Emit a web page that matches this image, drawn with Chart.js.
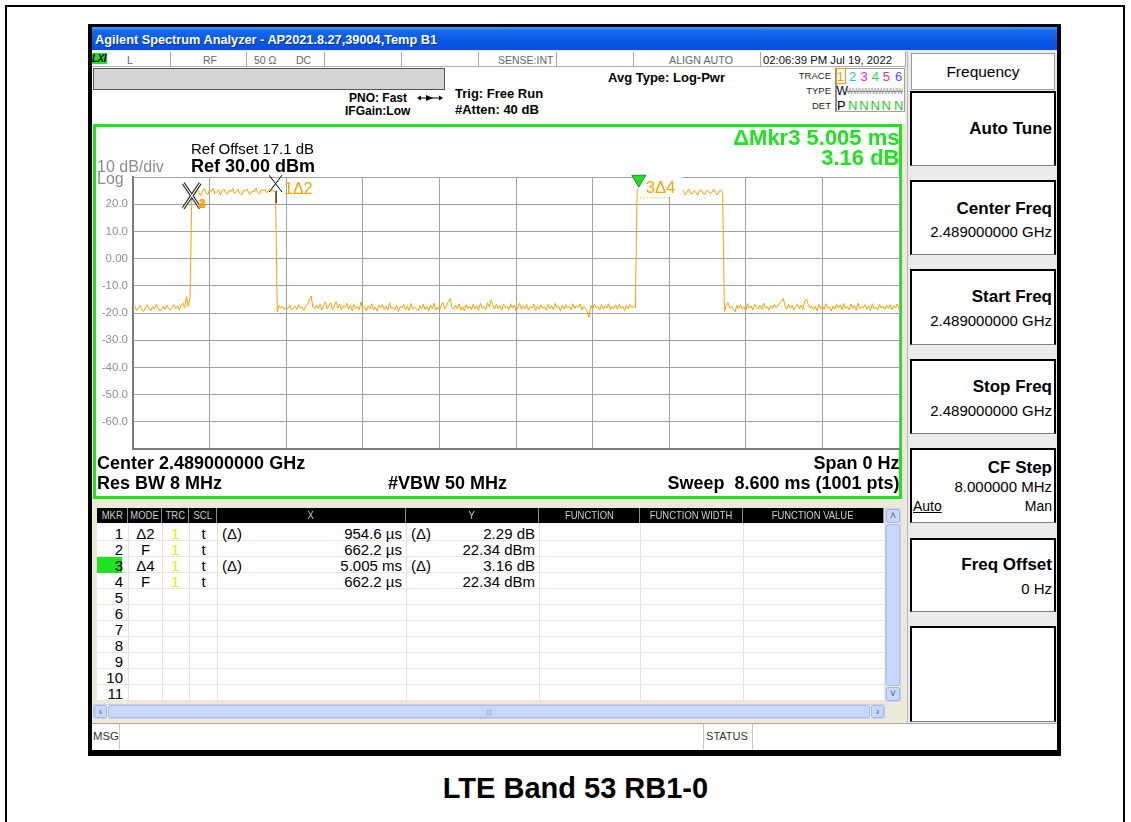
<!DOCTYPE html>
<html><head><meta charset="utf-8">
<script src="https://cdn.jsdelivr.net/npm/chart.js@4.4.1/dist/chart.umd.min.js"></script>
<style>
*{box-sizing:border-box;margin:0;padding:0}
body{width:1131px;height:822px;background:#fff;position:relative;overflow:hidden;font-family:"Liberation Sans",Arial,sans-serif;color:#000}
.a{position:absolute;white-space:nowrap;line-height:1}
.b{font-weight:bold}
.box{position:absolute}
.sep{position:absolute;width:1px;background:#a8a8a8}
.key{position:absolute;left:910px;width:146px;background:#fff;border-left:2px solid #000;border-top:2px solid #000;border-right:2px solid #000;border-bottom:1px solid #808080}
.kt{position:absolute;right:79px;font-weight:bold;font-size:17px;white-space:nowrap;line-height:1}
.kv{position:absolute;right:79px;font-size:15px;white-space:nowrap;line-height:1}
.hd{position:absolute;top:508px;height:15px;background:#000;border-right:1px solid #8a8a8a;color:#cfcfcf;font-size:11px;line-height:15px;text-align:center;overflow:hidden}
.hd span{display:inline-block;transform:scaleX(.86)}
.row{position:absolute;left:97px;width:787px;height:16px;border-bottom:1px solid #e6e6e6}
.cl{position:absolute;top:523px;height:178px;width:1px;background:#e2e2e2}
.t15{position:absolute;font-size:15px;line-height:1;white-space:nowrap}
</style></head>
<body>
<div class="box" style="left:5px;top:5px;width:1120px;height:840px;border:2px solid #000"></div>
<div class="box" style="left:88px;top:24px;width:973px;height:732px;background:#000"></div>
<div class="box" style="left:92px;top:27px;width:965px;height:23px;background:linear-gradient(#4b9cff 0%,#1668f0 18%,#0a5ae6 55%,#0650dc 100%)"></div>
<div class="a b" data-w="342" style="left:95px;top:32.5px;font-size:13px;color:#fff;text-shadow:1px 1px 0 #0a3290">Agilent Spectrum Analyzer - AP2021.8.27,39004,Temp B1</div>
<div class="box" style="left:92px;top:50px;width:965px;height:700px;background:#ece9d8"></div>

<!-- status row -->
<div class="box" style="left:92px;top:51px;width:813px;height:16px;background:#fff;border-bottom:1px solid #b0b0b0"></div>
<div class="box" style="left:92px;top:53px;width:15px;height:11px;background:#22e022"></div>
<div class="a b" style="left:92px;top:53.5px;font-size:10px;font-style:italic;letter-spacing:-0.5px">LXI</div>
<div class="a" style="left:127px;top:55px;font-size:10.5px;color:#666">L</div>
<div class="a" style="left:203px;top:55px;font-size:10.5px;color:#666">RF</div>
<div class="a" style="left:254px;top:55px;font-size:10.5px;color:#666">50 Ω</div>
<div class="a" style="left:296px;top:55px;font-size:10.5px;color:#666">DC</div>
<div class="a" style="left:498px;top:55px;font-size:10.5px;color:#666">SENSE:INT</div>
<div class="a" data-w="64" style="left:669px;top:55px;font-size:10.5px;color:#666">ALIGN AUTO</div>
<div class="a" data-w="129" style="left:763px;top:54.5px;font-size:11.3px;color:#111">02:06:39 PM Jul 19, 2022</div>
<div class="sep" style="left:170px;top:52px;height:15px"></div>
<div class="sep" style="left:246px;top:52px;height:15px"></div>
<div class="sep" style="left:324px;top:52px;height:15px"></div>
<div class="sep" style="left:401px;top:52px;height:15px"></div>
<div class="sep" style="left:478px;top:52px;height:15px"></div>
<div class="sep" style="left:556px;top:52px;height:15px"></div>
<div class="sep" style="left:633px;top:52px;height:15px"></div>
<div class="sep" style="left:760px;top:52px;height:15px"></div>
<div class="sep" style="left:905px;top:51px;height:16px"></div>

<!-- header info -->
<div class="box" style="left:92px;top:67px;width:813px;height:57px;background:#fff"></div>
<div class="box" style="left:93px;top:68px;width:352px;height:22px;background:#d6d3d6;border:1px solid #555"></div>
<div class="a b" style="right:724px;top:92px;font-size:12px">PNO: Fast</div>
<svg class="box" style="left:417px;top:94px" width="26" height="8" viewBox="0 0 26 8">
<line x1="2" y1="4" x2="24" y2="4" stroke="#000" stroke-width="1"/>
<polygon points="0,4 4,1.5 4,6.5" fill="#000"/><polygon points="26,4 22,1.5 22,6.5" fill="#000"/>
<polygon points="9,1 16,4 9,7" fill="#000"/></svg>
<div class="a b" style="left:345px;top:105px;font-size:12px">IFGain:Low</div>
<div class="a b" style="left:455px;top:86.5px;font-size:13px">Trig: Free Run</div>
<div class="a b" style="left:455px;top:102.5px;font-size:13px">#Atten: 40 dB</div>
<div class="a b" style="left:608px;top:70.5px;font-size:13px">Avg Type: Log-Pwr</div>
<div class="a" style="right:300px;top:71px;font-size:9.5px;color:#222">TRACE</div>
<div class="a" style="right:300px;top:86px;font-size:9.5px;color:#222">TYPE</div>
<div class="a" style="right:300px;top:100.5px;font-size:9.5px;color:#222">DET</div>
<div class="box" style="left:835px;top:68px;width:70px;height:44px;border:1px solid #a0a0a0;border-left:2px solid #8a8a8a"></div>
<div class="box" style="left:836px;top:68px;width:10px;height:16px;border:1px solid #ff9900"></div>
<div id="traceNums"></div>
<div class="a" style="left:836.5px;top:85px;font-size:12px">W</div>
<div class="a" data-w="56" style="left:847px;top:86.5px;font-size:9px;color:#8a8a8a;text-decoration:line-through">WWWWWWWWW</div>
<div class="a" style="left:837px;top:98.5px;font-size:13px">P</div>

<!-- plot frame -->
<div class="box" style="left:93px;top:124px;width:809px;height:375px;border:3px solid #1ee41e;background:#fff"></div>
<canvas id="c" width="804" height="369" style="position:absolute;left:96px;top:127px"></canvas>
<div class="a" style="left:191px;top:141px;font-size:15px">Ref Offset 17.1 dB</div>
<div class="a b" style="left:191px;top:157px;font-size:18px">Ref 30.00 dBm</div>
<div class="a" style="left:97px;top:159px;font-size:16px;color:#8c8c8c">10 dB/div</div>
<div class="a" style="left:97px;top:171px;font-size:16px;color:#8c8c8c">Log</div>
<div class="a b" style="right:231.5px;top:127.3px;font-size:22px;color:#1ee41e">ΔMkr3 5.005 ms</div>
<div class="a b" style="right:231.5px;top:147.3px;font-size:22px;color:#1ee41e">3.16 dB</div>
<div class="a b" style="left:97px;top:454.3px;font-size:18px">Center 2.489000000 GHz</div>
<div class="a b" style="left:97px;top:474.3px;font-size:18px">Res BW 8 MHz</div>
<div class="a b" style="left:388px;top:474.3px;font-size:18px">#VBW 50 MHz</div>
<div class="a b" style="right:231.5px;top:454.3px;font-size:18px">Span 0 Hz</div>
<div class="a b" style="right:231.5px;top:474.3px;font-size:18px;white-space:pre">Sweep  8.600 ms (1001 pts)</div>

<!-- softkeys -->
<div class="box" style="left:907px;top:51px;width:150px;height:672px;background:#ebebeb;border-left:1px solid #b8b8b8"></div>
<div class="box" style="left:911px;top:53px;width:144px;height:37px;background:#fff;border:1px solid #9a9a9a"></div>
<div class="a" style="left:911px;width:144px;text-align:center;top:63.5px;font-size:15.5px">Frequency</div>
<div class="key" style="top:91px;height:75px"></div>
<div class="kt" style="top:120px">Auto Tune</div>
<div class="key" style="top:180px;height:75px"></div>
<div class="kt" style="top:199.5px">Center Freq</div>
<div class="kv" style="top:224px">2.489000000 GHz</div>
<div class="key" style="top:269px;height:76px"></div>
<div class="kt" style="top:288px">Start Freq</div>
<div class="kv" style="top:312.5px">2.489000000 GHz</div>
<div class="key" style="top:359px;height:75px"></div>
<div class="kt" style="top:378px">Stop Freq</div>
<div class="kv" style="top:402.5px">2.489000000 GHz</div>
<div class="key" style="top:448px;height:75px"></div>
<div class="kt" style="top:458.5px">CF Step</div>
<div class="kv" style="top:479px">8.000000 MHz</div>
<div class="a" style="left:913px;top:499px;font-size:14px;text-decoration:underline">Auto</div>
<div class="kv" style="top:499px;font-size:14px">Man</div>
<div class="key" style="top:538px;height:74px"></div>
<div class="kt" style="top:555.5px">Freq Offset</div>
<div class="kv" style="top:581px">0 Hz</div>
<div class="key" style="top:626px;height:96px"></div>

<!-- marker table -->
<div class="box" style="left:97px;top:523px;width:787px;height:178px;background:#fff"></div>
<div id="tbl"></div>
<div class="box" style="left:885px;top:508px;width:16px;height:194px;background:#eef2fb;border:1px solid #c9d5ee"></div>
<div class="box" style="left:886px;top:509px;width:14px;height:14px;background:#c8d8fb;border:1px solid #9fb6e8;border-radius:2px;font-size:10px;line-height:12px;text-align:center;color:#4a5f8a">˄</div>
<div class="box" style="left:886px;top:524px;width:14px;height:162px;background:#c8d8fb;border:1px solid #a9bfee;border-radius:2px"></div>
<div class="box" style="left:886px;top:687px;width:14px;height:14px;background:#c8d8fb;border:1px solid #9fb6e8;border-radius:2px;font-size:10px;line-height:12px;text-align:center;color:#4a5f8a">˅</div>
<div class="box" style="left:93px;top:704px;width:792px;height:15px;background:#eef2fb;border:1px solid #c9d5ee"></div>
<div class="box" style="left:94px;top:705px;width:13px;height:13px;background:#c8d8fb;border:1px solid #9fb6e8;border-radius:2px;font-size:11px;line-height:11px;text-align:center;color:#4a5f8a">‹</div>
<div class="box" style="left:108px;top:705px;width:762px;height:13px;background:#c8d8fb;border:1px solid #a9bfee;border-radius:2px;font-size:8px;line-height:11px;text-align:center;color:#8fa6d6">|||</div>
<div class="box" style="left:871px;top:705px;width:13px;height:13px;background:#c8d8fb;border:1px solid #9fb6e8;border-radius:2px;font-size:11px;line-height:11px;text-align:center;color:#4a5f8a">›</div>

<!-- msg bar -->
<div class="box" style="left:92px;top:723px;width:965px;height:27px;background:#fff;border-top:1px solid #a8a8a8"></div>
<div class="sep" style="left:119px;top:724px;height:26px;background:#c8c8c8"></div>
<div class="sep" style="left:703px;top:724px;height:26px;background:#c8c8c8"></div>
<div class="sep" style="left:752px;top:724px;height:26px;background:#c8c8c8"></div>
<div class="a" data-w="26" style="left:92.5px;top:731px;font-size:10.5px;color:#333">MSG</div>
<div class="a" data-w="42" style="left:706px;top:731px;font-size:10.5px;color:#333">STATUS</div>

<div class="a b" style="left:0;width:1151px;text-align:center;top:773.5px;font-size:29px">LTE Band 53 RB1-0</div>

<script>
// ---------- data ----------
const SWEEP_MS = 8.6;            // Sweep 8.600 ms
const SAMPLE_STEP_MS = 0.02;     // trace sampled every 0.02 ms (431 samples)
const noiseA = [-18.4,-17.6,-19.1,-18.2,-17.3,-18.9,-19.4,-17.9,-17.0,-18.5,
 -19.2,-17.7,-18.6,-16.8,-18.1,-19.3,-18.8,-17.5,-18.7,-17.2,
 -18.3,-19.0,-17.8,-16.9,-18.4,-17.4,-18.9,-17.1,-16.4,-18.2,
 -14.0,-17.6,-14.6];
const burst1 = [22.34,25.2,23.9,25.7,24.3,23.1,25.0,25.8,24.1,23.6,
 25.4,24.7,25.9,23.8,24.5,25.3,23.4,24.9,25.6,24.2,
 23.7,25.1,24.6,25.8,23.9,24.4,25.5,24.0,23.3,25.2,
 24.8,25.7,24.1,23.6,25.0,24.5,25.9,24.3,23.8,25.4,
 24.9,25.6,24.2,25.1,24.7,25.3,24.8,24.63];
const noiseB = [-19.6,-17.2,-18.1,-17.6,-18.8,-17.9,-18.4,-17.1,-18.9,-18.2,
 -17.5,-18.7,-16.9,-18.3,-17.8,-19.0,-17.4,-16.6,-15.2,-13.8,
 -17.9,-18.6,-17.0,-18.4,-16.8,-18.9,-17.3,-15.9,-18.5,-17.1,
 -16.2,-18.8,-17.4,-15.8,-18.2,-16.7,-18.9,-17.3,-18.0,-16.4,
 -18.6,-17.2,-19.1,-16.9,-18.3,-17.6,-18.8,-15.9,-18.4,-17.7,
 -19.2,-17.4,-18.5,-16.6,-18.9,-17.8,-19.3,-17.1,-18.2,-16.9,
 -18.7,-17.5,-19.0,-16.3,-18.4,-17.9,-18.8,-17.2,-19.4,-17.6,
 -18.1,-16.8,-18.9,-17.4,-19.1,-16.5,-18.6,-17.7,-18.3,-19.2,
 -17.3,-18.5,-16.7,-18.8,-17.6,-19.3,-17.0,-18.4,-16.4,-18.9,
 -17.8,-19.0,-17.2,-16.1,-18.6,-17.5,-15.8,-14.7,-17.9,-18.7,
 -17.1,-18.4,-16.6,-18.9,-17.7,-19.2,-16.9,-18.3,-17.4,-18.8,
 -16.8,-18.5,-17.3,-19.1,-16.5,-18.2,-17.6,-18.9,-16.3,-17.8,
 -15.3,-17.0,-18.6,-16.7,-18.4,-17.2,-19.0,-16.9,-18.1,-17.5,
 -18.8,-16.6,-18.3,-17.1,-19.2,-17.8,-16.4,-18.7,-17.3,-18.5,
 -16.9,-18.9,-17.6,-18.2,-16.7,-19.1,-17.4,-18.6,-17.0,-18.3,
 -17.7,-19.0,-16.8,-18.4,-17.2,-18.9,-16.5,-18.1,-17.6,-19.3,
 -17.1,-18.6,-16.9,-18.2,-17.5,-18.8,-16.6,-18.4,-17.3,-18.0,
 -16.7,-18.9,-17.4,-18.3,-19.6,-21.6,-17.2,-18.5,-16.8,-18.1,
 -17.7,-19.0,-16.9,-18.6,-17.3,-18.2,-16.6,-18.8,-17.5,-18.4,
 -17.0,-18.7,-16.8,-18.3,-17.6,-19.1,-17.2,-18.5,-16.9,-18.0,
 -17.4,-18.2];
const burst2 = [25.50,24.9,24.6,23.8,25.2,24.1,25.7,23.5,24.9,25.3,
 24.0,23.6,25.1,24.4,25.8,23.9,24.7,25.4,24.2,23.4,
 25.0,24.6,25.6,24.3,23.7,25.2,24.8,23.5,24.5,25.5,
 24.1,23.8,25.0,24.4,23.2,24.9,25.3,24.0,23.6,25.1,
 24.7,23.9,24.3,25.6,24.1,23.4,24.8,25.2,23.8];
const noiseC = [-19.4,-17.3,-16.2,-18.1,-17.5,-18.8,-19.6,-17.2,-18.4,-16.9,
 -18.6,-17.8,-19.1,-16.5,-18.3,-17.4,-18.9,-16.8,-17.9,-18.5,
 -17.1,-18.7,-16.4,-18.2,-17.6,-19.0,-17.3,-18.4,-16.9,-18.1,
 -17.5,-16.3,-15.6,-14.6,-17.4,-18.6,-16.8,-18.3,-17.2,-18.9,
 -17.7,-16.6,-18.4,-17.1,-18.8,-15.8,-14.9,-16.7,-18.2,-17.4,
 -18.9,-17.6,-19.2,-16.9,-18.5,-17.3,-18.7,-16.6,-18.1,-17.8,
 -19.3,-17.4,-18.6,-16.8,-18.2,-17.0,-18.9,-16.5,-18.4,-17.6,
 -18.8,-16.7,-18.3,-17.2,-19.0,-16.4,-18.5,-17.7,-18.1,-16.9,
 -18.6,-17.3,-19.1,-16.6,-18.4,-17.8,-18.9,-16.8,-18.2,-17.5,
 -18.7,-17.1,-18.3,-16.9,-18.8,-17.4,-18.0,-16.7,-18.5];

const xGridMs = [0,0.86,1.72,2.58,3.44,4.30,5.16,6.02,6.88,7.74,8.60];
const yTickDbm = [30,20,10,0,-10,-20,-30,-40,-50,-60,-70];
const yTickLabels = ['','20.0','10.0','0.00','-10.0','-20.0','-30.0','-40.0','-50.0','-60.0',''];

const markerLabels = ['1Δ2','2','3Δ4','4'];
const markerMs = [1.6168, 0.6622, 5.6672, 0.6622];
const markerDbm = [24.63, 22.34, 25.50, 22.34];

const tblMkr = ['1','2','3','4','5','6','7','8','9','10','11'];
const tblMode = ['Δ2','F','Δ4','F'];
const tblTrc = ['1','1','1','1'];
const tblScl = ['t','t','t','t'];
const tblXRel = ['(Δ)','','(Δ)',''];
const tblX = ['954.6 µs','662.2 µs','5.005 ms','662.2 µs'];
const tblYRel = ['(Δ)','','(Δ)',''];
const tblY = ['2.29 dB','22.34 dBm','3.16 dB','22.34 dBm'];
const headerNames = ['MKR','MODE','TRC','SCL','X','Y','FUNCTION','FUNCTION WIDTH','FUNCTION VALUE'];
const traceNums = ['1','2','3','4','5','6'];
const traceNumColors = ['#ff9900','#10c8ff','#ee22ee','#2ed84a','#ff3377','#6a44ff'];
const detModes = ['','N','N','N','N','N'];

// ---------- page pieces built from the arrays ----------
const colEdges = [97,128,162,189,217,406,539,640,743,884];
let h = '';
headerNames.forEach((n,i)=>{
  h += `<div class="hd" style="left:${colEdges[i]}px;width:${colEdges[i+1]-colEdges[i]}px"><span>${n}</span></div>`;
});
for (let r=0;r<tblMkr.length;r++){
  const top = 525+16*r, tt = top+0.8;
  h += `<div class="row" style="top:${top}px"></div>`;
  if (r===2) h += `<div class="box" style="left:97px;top:${top}px;width:25px;height:16px;background:#22e022"></div>`;
  h += `<div class="t15" style="right:${1131-123}px;top:${tt}px">${tblMkr[r]}</div>`;
  if (r<tblMode.length){
    h += `<div class="t15" style="left:129px;width:33px;text-align:center;top:${tt}px">${tblMode[r]}</div>`;
    h += `<div class="t15" style="left:162px;width:27px;text-align:center;top:${tt}px;color:#f2e600">${tblTrc[r]}</div>`;
    h += `<div class="t15" style="left:190px;width:27px;text-align:center;top:${tt}px">${tblScl[r]}</div>`;
    h += `<div class="t15" style="left:222px;top:${tt}px">${tblXRel[r]}</div>`;
    h += `<div class="t15" style="right:${1131-402}px;top:${tt}px">${tblX[r]}</div>`;
    h += `<div class="t15" style="left:411px;top:${tt}px">${tblYRel[r]}</div>`;
    h += `<div class="t15" style="right:${1131-535}px;top:${tt}px">${tblY[r]}</div>`;
  }
}
colEdges.slice(1,9).forEach(x=>{ h += `<div class="cl" style="left:${x}px"></div>`; });
document.getElementById('tbl').innerHTML = h;

const numCx = [840.3,852.7,864,875.3,886.3,898.7];
let tn = '';
traceNums.forEach((n,i)=>{
  tn += `<div class="a" style="left:${numCx[i]-3.6}px;top:69.5px;font-size:13px;color:${traceNumColors[i]}">${n}</div>`;
  if (detModes[i]) tn += `<div class="a" style="left:${numCx[i]-4.7}px;top:98.5px;font-size:13px;color:#22cc22">${detModes[i]}</div>`;
});
document.getElementById('traceNums').innerHTML = tn;

// ---------- chart ----------
const traceDbm = [].concat(noiseA, burst1, noiseB, burst2, noiseC);
const tracePts = traceDbm.map((v,i)=>({x: Math.min(i*SAMPLE_STEP_MS, SWEEP_MS), y: v}));

const ORANGE = '#ff9f00';
const markerPlugin = {
  id:'mkr',
  afterDatasetsDraw(chart){
    const ctx = chart.ctx, xs = chart.scales.x, ys = chart.scales.y;
    const P = i => [xs.getPixelForValue(markerMs[i]), ys.getPixelForValue(markerDbm[i])];
    ctx.save();
    // marker 3 (delta to 4): label box, label, green triangle
    let [px,py] = P(2);
    ctx.fillStyle = '#fff';
    ctx.fillRect(px+0.5, py-14, 44, 22);
    ctx.strokeStyle = ORANGE; ctx.lineWidth = 1; ctx.setLineDash([1,2.5]);
    ctx.beginPath(); ctx.moveTo(px+2, py+8.5); ctx.lineTo(px+33, py+8.5); ctx.stroke(); ctx.setLineDash([]);
    ctx.fillStyle = ORANGE; ctx.font = '16.5px "Liberation Sans"'; ctx.textBaseline = 'alphabetic';
    ctx.fillText(markerLabels[2], px+8, py+3.6);
    ctx.beginPath(); ctx.moveTo(px-6, py-14); ctx.lineTo(px+8, py-14); ctx.lineTo(px+1, py-2); ctx.closePath();
    ctx.fillStyle = '#22dd22'; ctx.fill(); ctx.strokeStyle = '#117711'; ctx.lineWidth = 0.8; ctx.stroke();
    // marker 1 (delta to 2)
    [px,py] = P(0);
    ctx.strokeStyle = '#000'; ctx.lineWidth = 1;
    ctx.beginPath(); ctx.moveTo(px-7.8, py-16.3); ctx.lineTo(px+4.9, py+0.4);
    ctx.moveTo(px+4.9, py-16.3); ctx.lineTo(px-7.8, py+0.4);
    ctx.moveTo(px-0.8, py-1); ctx.lineTo(px-0.8, py+11.7); ctx.stroke();
    ctx.fillStyle = ORANGE; ctx.font = '16px "Liberation Sans"';
    ctx.fillText(markerLabels[0], px+7, py+2.1);
    // markers 2 and 4 (fixed, same point)
    [px,py] = P(1);
    const xl = () => { ctx.beginPath(); ctx.moveTo(px-8.7, py-14.6); ctx.lineTo(px+8.3, py+10.4);
      ctx.moveTo(px+8.3, py-14.6); ctx.lineTo(px-8.7, py+10.4); ctx.stroke(); };
    ctx.strokeStyle = '#222'; ctx.lineWidth = 3.2; xl();
    ctx.strokeStyle = '#fff'; ctx.lineWidth = 1.2; xl();
    ctx.fillStyle = ORANGE;
    ctx.font = 'bold 13px "Liberation Sans"'; ctx.fillText(markerLabels[1], px+6.3, py+10.4);
    ctx.font = '13px "Liberation Sans"'; ctx.fillText(markerLabels[3], px+6.8, py+10.4);
    ctx.restore();
  }
};

Chart.defaults.font.family = '"Liberation Sans", Arial, sans-serif';
new Chart(document.getElementById('c'), {
  type:'line',
  data:{datasets:[{data: tracePts, borderColor: ORANGE, borderWidth: 1, pointRadius: 0, tension: 0, fill:false}]},
  options:{
    animation:false, responsive:false, devicePixelRatio:1,
    layout:{padding:{top:50,bottom:47,left:0,right:1}},
    plugins:{legend:{display:false}, tooltip:{enabled:false}},
    scales:{
      x:{type:'linear', min:0, max:SWEEP_MS,
         afterBuildTicks: s => { s.ticks = xGridMs.map(v=>({value:v})); },
         ticks:{display:false},
         grid:{color:'#a2a2a2', lineWidth:1, drawTicks:false},
         border:{display:true, color:'#7c7c7c', width:2},
         afterFit: s => { s.height = 0; }},
      y:{type:'linear', min:-70, max:30,
         afterBuildTicks: s => { s.ticks = yTickDbm.map(v=>({value:v})); },
         ticks:{color:'#8f8f8f', font:{size:11.5}, padding:5, callback:(v,i)=>yTickLabels[i]},
         grid:{color:'#a2a2a2', lineWidth:1, drawTicks:false},
         border:{display:true, color:'#7c7c7c', width:2},
         afterFit: s => { s.width = 37; }}
    }
  },
  plugins:[markerPlugin]
});

// horizontal fit of a few condensed texts
document.querySelectorAll('[data-w]').forEach(el=>{
  const w = el.getBoundingClientRect().width;
  el.style.transformOrigin = 'left center';
  el.style.transform = `scaleX(${(+el.dataset.w)/w})`;
});
</script>
</body></html>
